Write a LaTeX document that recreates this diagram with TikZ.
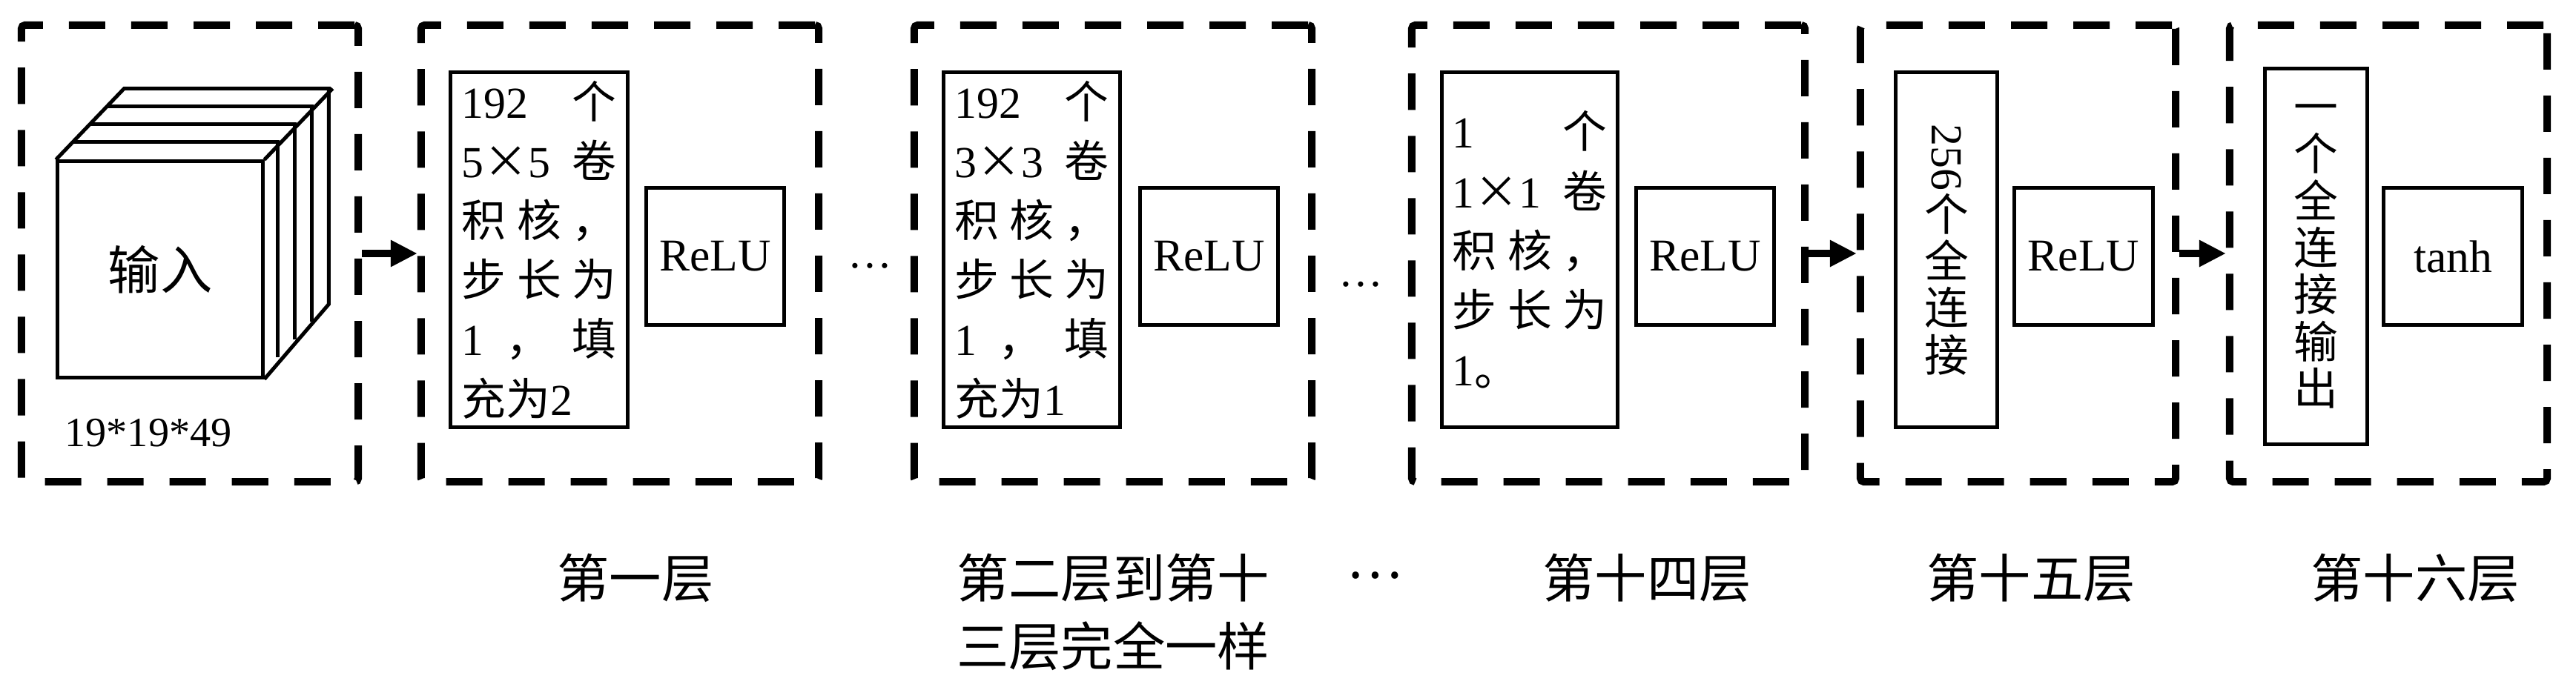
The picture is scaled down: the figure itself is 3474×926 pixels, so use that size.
\documentclass[tikz,border=0pt]{standalone}
\usepackage{fontspec}
\setmainfont{Liberation Serif}
\newfontfamily\cjk{Noto Sans CJK SC}
\usetikzlibrary{arrows.meta}
\newcommand\zh[1]{{\cjk #1}}
\begin{document}
\begin{tikzpicture}[x=0.01cm,y=-0.01cm,
  dbox/.style={draw, line width=0.1cm, dash pattern=on 0.49cm off 0.35cm, rounded corners=0.05cm, inner sep=0pt, minimum height=6.16cm},
  sbox/.style={draw, line width=0.05cm, inner sep=0pt, fill=white},
  convbox/.style={sbox, minimum height=4.78cm, text width=2.08cm, align=left, font=\fontsize{17}{22.8}\selectfont},
  vbox/.style={sbox, minimum height=4.78cm, minimum width=1.36cm, align=center, font=\cjk\fontsize{17}{18}\selectfont},
  actbox/.style={sbox, minimum width=1.86cm, minimum height=1.84cm, font=\fontsize{17.5}{20}\selectfont},
  arr/.style={line width=0.1cm, -{Triangle[length=0.36cm,width=0.34cm]}},
  lab/.style={font=\cjk\fontsize{20}{26}\selectfont, align=center},
  dots/.style={font=\fontsize{17}{20}\selectfont, anchor=base}
]
\useasboundingbox (0,0) rectangle (3474,926);

% dashed layer frames
\node[dbox, minimum width=4.54cm] (b1) at (256,342) {};
\node[dbox, minimum width=5.36cm] (b2) at (836,342) {};
\node[dbox, minimum width=5.36cm] (b3) at (1501,342) {};
\node[dbox, minimum width=5.30cm] (b4) at (2169,342) {};
\node[dbox, minimum width=4.25cm] (b5) at (2721.5,342) {};
\node[dbox, minimum width=4.28cm] (b6) at (3221,342) {};

% input cube
\node[sbox, minimum width=2.76cm, minimum height=2.91cm, font=\cjk\fontsize{20}{24}\selectfont] (in) at (216,363.5) {输入};
\draw[line width=0.05cm, line join=miter] (in.north west) -- ++(92,-96) -- ++(276,0) -- ++(0,291) -- (in.south east);
\draw[line width=0.05cm] (in.north east) -- ++(92,-96);
\foreach \k in {1,2,3}
  \draw[line width=0.05cm] (in.north west) ++(23*\k,-24*\k) -- ++(276,0) -- ++(0,291);
\node[font=\fontsize{16}{18}\selectfont] (size) at (200,584) {19*19*49};

% layer 1
\node[convbox, minimum width=2.38cm] (c1) at (727,337) {192\hfill\zh{个}\\
5\zh{×}5\hfill\zh{卷}\\
\zh{积}\hfill\zh{核}\hfill\zh{，}\\
\zh{步}\hfill\zh{长}\hfill\zh{为}\\
1\hfill\zh{，}\hfill\zh{填}\\
\zh{充为}2};
\node[actbox] (r1) at (964.5,346) {ReLU};
\node[dots] (d1) at (1173,361) {…};

% layers 2-13
\node[convbox, minimum width=2.37cm] (c2) at (1391.5,337) {192\hfill\zh{个}\\
3\zh{×}3\hfill\zh{卷}\\
\zh{积}\hfill\zh{核}\hfill\zh{，}\\
\zh{步}\hfill\zh{长}\hfill\zh{为}\\
1\hfill\zh{，}\hfill\zh{填}\\
\zh{充为}1};
\node[actbox] (r2) at (1630.5,346) {ReLU};
\node[dots] (d2) at (1835,386) {…};

% layer 14
\node[convbox, minimum width=2.36cm] (c3) at (2063,337) {1\hfill\zh{个}\\
1\zh{×}1\hfill\zh{卷}\\
\zh{积}\hfill\zh{核}\hfill\zh{，}\\
\zh{步}\hfill\zh{长}\hfill\zh{为}\\
1\zh{。}};
\node[actbox] (r3) at (2299.5,346) {ReLU};

% layer 15
\node[vbox] (c4) at (2625,337) {{\rmfamily\rotatebox{-90}{256}}\\个\\全\\连\\接};
\node[actbox] (r4) at (2810,346) {ReLU};

% layer 16
\node[vbox, minimum height=5.06cm, minimum width=1.37cm] (c5) at (3123.5,346) {一\\个\\全\\连\\接\\输\\出};
\node[actbox] (t) at (3308,346) {tanh};

% arrows
\draw[arr] (b1.east) -- (b2.west);
\draw[arr] (b4.east) -- (b5.west);
\draw[arr] (b5.east) -- (b6.west);

% labels
\node[lab] (l1) at (857,780) {第一层};
\node[lab] (l2) at (1501,826) {第二层到第十\\三层完全一样};
\node[lab] (l3) at (1854,777) {…};
\node[lab] (l4) at (2221,780) {第十四层};
\node[lab] (l5) at (2739,780) {第十五层};
\node[lab] (l6) at (3257,780) {第十六层};
\end{tikzpicture}
\end{document}
